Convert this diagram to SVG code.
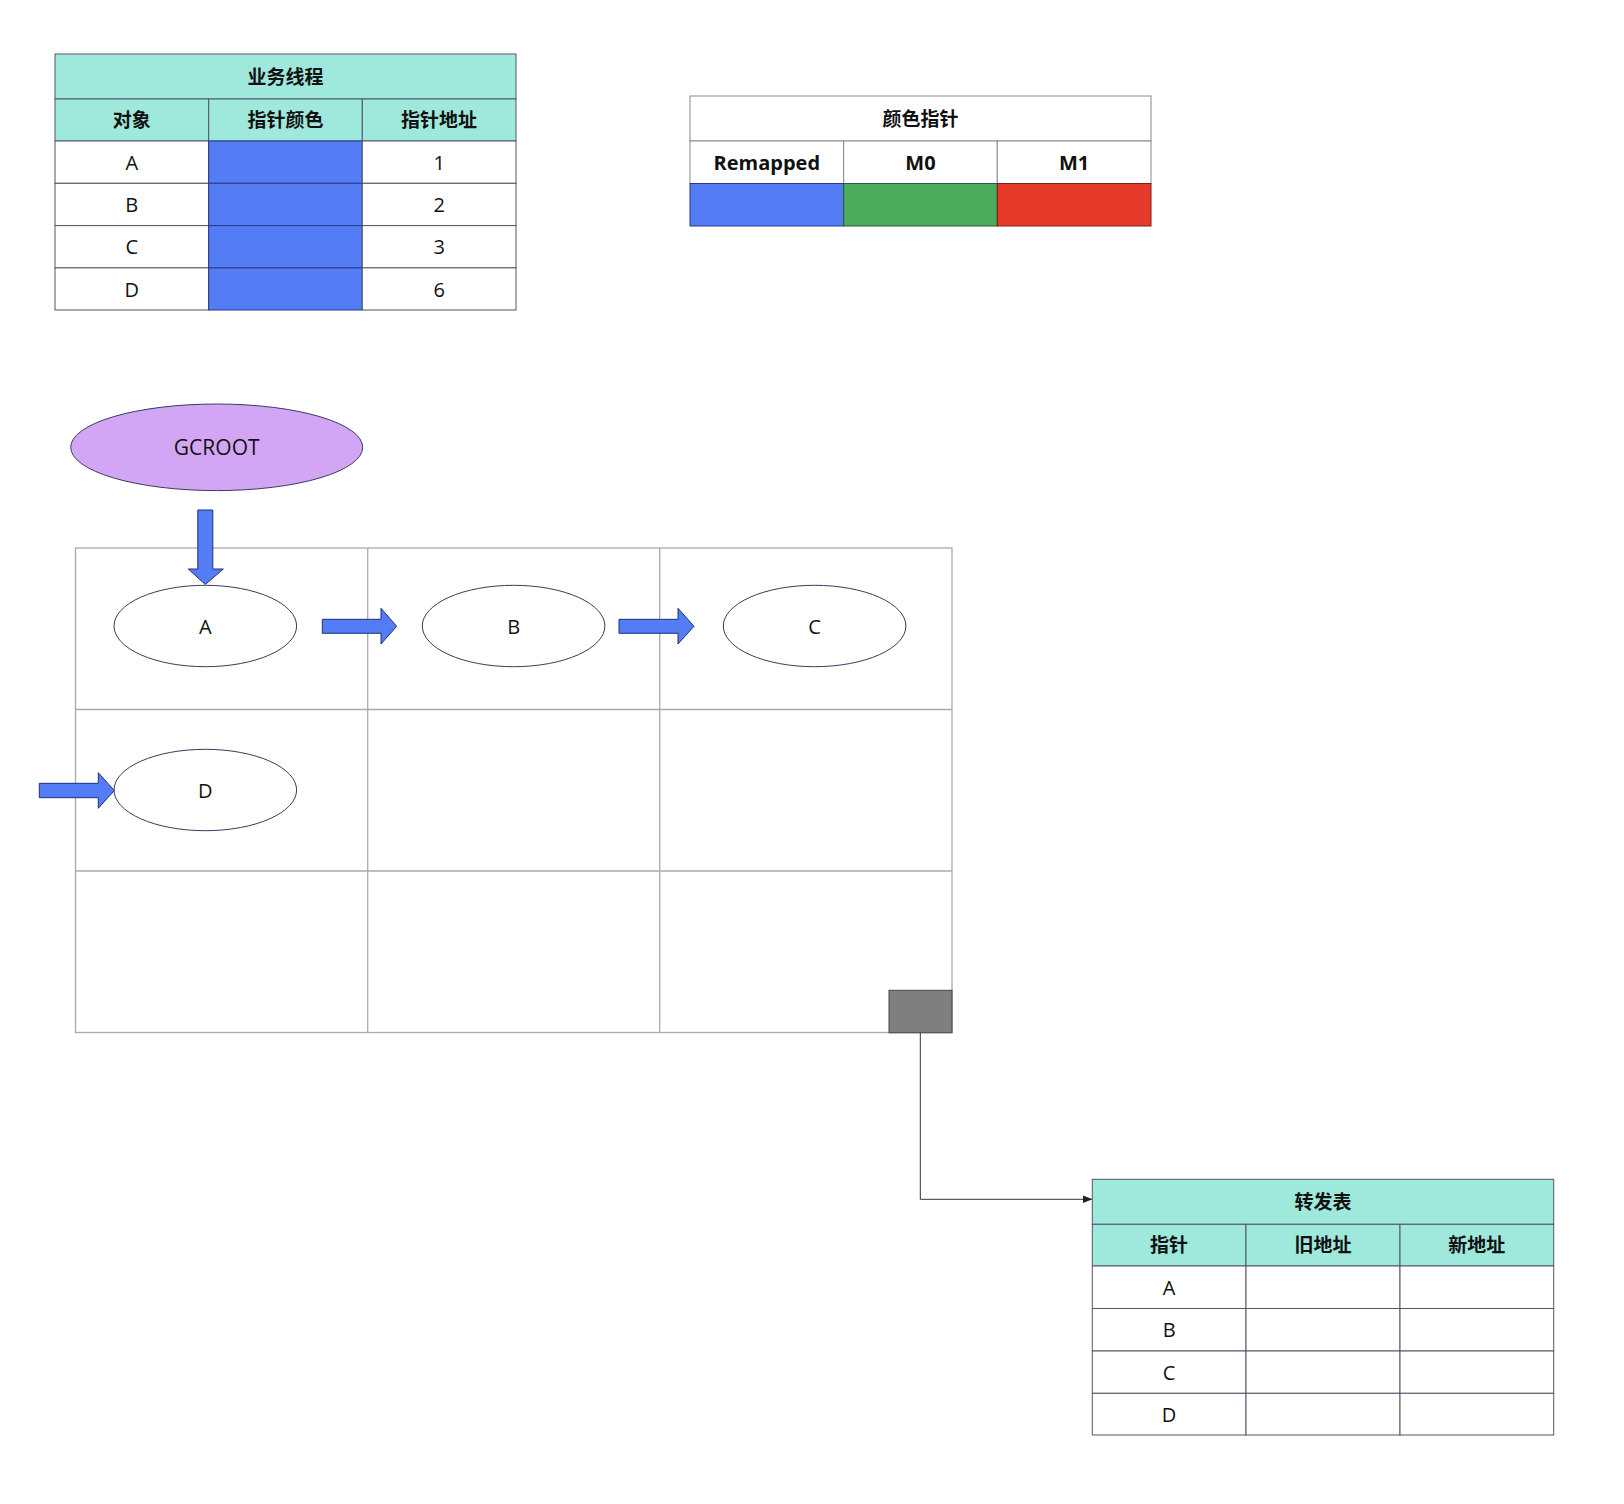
<svg xmlns="http://www.w3.org/2000/svg" width="1624" height="1504" viewBox="0 0 1624 1504">
<style>
text{font-family:"Open Sans","Noto Sans","Noto Sans CJK SC",sans-serif;font-size:20px;fill:#111;text-anchor:middle;dominant-baseline:central}
.b{font-weight:bold;font-size:19px;font-family:"Open Sans","Noto Sans CJK SC",sans-serif}
.hd{fill:#9EE8DC;stroke:#55556a;stroke-width:1}
.cell{fill:#fff;stroke:#55556a;stroke-width:1}
.blue{fill:#547CF5;stroke:#2b3a80;stroke-width:1}
.cell2{fill:#fff;stroke:#8a8a8a;stroke-width:1}
.grid{fill:none;stroke:#aaaaaa;stroke-width:1.3}
.ell{fill:#fff;stroke:#3a3a5e;stroke-width:1}
.barrow{fill:#547CF5;stroke:#1f2f7a;stroke-width:1}
</style>
<defs>
<marker id="tri" markerWidth="10" markerHeight="10" refX="9" refY="5" orient="auto" markerUnits="userSpaceOnUse">
<path d="M0,1 L10,5 L0,9 Z" fill="#222"/>
</marker>
</defs>
<rect width="1624" height="1504" fill="#fff"/>

<g id="table-business-thread">
<rect class="hd" x="55" y="54" width="461" height="45"/>
<text class="b" x="285.5" y="77">业务线程</text>
<rect class="hd" x="55" y="99" width="153.7" height="42"/>
<rect class="hd" x="208.7" y="99" width="153.6" height="42"/>
<rect class="hd" x="362.3" y="99" width="153.7" height="42"/>
<text class="b" x="131.8" y="120">对象</text>
<text class="b" x="285.5" y="120">指针颜色</text>
<text class="b" x="439.1" y="120">指针地址</text>
<rect class="cell" x="55" y="141" width="153.7" height="42.3"/>
<rect class="cell" x="55" y="183.3" width="153.7" height="42.3"/>
<rect class="cell" x="55" y="225.6" width="153.7" height="42.3"/>
<rect class="cell" x="55" y="267.9" width="153.7" height="42.1"/>
<rect class="blue" x="208.7" y="141" width="153.6" height="42.3"/>
<rect class="blue" x="208.7" y="183.3" width="153.6" height="42.3"/>
<rect class="blue" x="208.7" y="225.6" width="153.6" height="42.3"/>
<rect class="blue" x="208.7" y="267.9" width="153.6" height="42.1"/>
<rect class="cell" x="362.3" y="141" width="153.7" height="42.3"/>
<rect class="cell" x="362.3" y="183.3" width="153.7" height="42.3"/>
<rect class="cell" x="362.3" y="225.6" width="153.7" height="42.3"/>
<rect class="cell" x="362.3" y="267.9" width="153.7" height="42.1"/>
<text x="131.8" y="162.2">A</text>
<text x="131.8" y="204.5">B</text>
<text x="131.8" y="246.8">C</text>
<text x="131.8" y="289">D</text>
<text x="439.1" y="162.2">1</text>
<text x="439.1" y="204.5">2</text>
<text x="439.1" y="246.8">3</text>
<text x="439.1" y="289">6</text>
</g>

<g id="table-color-pointer">
<rect class="cell2" x="690" y="96" width="461" height="45"/>
<text class="b" x="920.5" y="119">颜色指针</text>
<rect class="cell2" x="690" y="141" width="153.7" height="42.5"/>
<rect class="cell2" x="843.7" y="141" width="153.6" height="42.5"/>
<rect class="cell2" x="997.3" y="141" width="153.7" height="42.5"/>
<text class="b" x="766.8" y="162.5" style="font-size:20px">Remapped</text>
<text class="b" x="920.5" y="162.5" style="font-size:20px">M0</text>
<text class="b" x="1074.1" y="162.5" style="font-size:20px">M1</text>
<rect x="690" y="183.5" width="153.7" height="42.5" fill="#547CF5" stroke="#2b3a80"/>
<rect x="843.7" y="183.5" width="153.6" height="42.5" fill="#4DAB5E" stroke="#2c5a36"/>
<rect x="997.3" y="183.5" width="153.7" height="42.5" fill="#E83A2A" stroke="#7a2018"/>
</g>

<g id="gcroot">
<ellipse cx="216.7" cy="447.3" rx="146" ry="43.3" fill="#D2A6F5" stroke="#3a3a5e" stroke-width="1"/>
<text x="216.7" y="447.3" style="font-size:21px">GCROOT</text>
</g>

<g id="heap-grid">
<rect class="grid" x="75.5" y="548" width="876.5" height="484.5"/>
<line class="grid" x1="367.7" y1="548" x2="367.7" y2="1032.5"/>
<line class="grid" x1="659.7" y1="548" x2="659.7" y2="1032.5"/>
<line class="grid" x1="75.5" y1="709.5" x2="952" y2="709.5"/>
<line class="grid" x1="75.5" y1="871" x2="952" y2="871"/>
</g>

<g id="node-A">
<ellipse class="ell" cx="205.3" cy="626" rx="91.3" ry="40.7"/>
<text x="205.3" y="626">A</text>
</g>
<g id="node-B">
<ellipse class="ell" cx="513.6" cy="626" rx="91.3" ry="40.7"/>
<text x="513.6" y="626">B</text>
</g>
<g id="node-C">
<ellipse class="ell" cx="814.6" cy="626" rx="91.3" ry="40.7"/>
<text x="814.6" y="626">C</text>
</g>
<g id="node-D">
<ellipse class="ell" cx="205.3" cy="790" rx="91.3" ry="40.7"/>
<text x="205.3" y="790">D</text>
</g>

<g id="marker-box">
<rect x="889" y="990.3" width="63" height="42.5" fill="#7F7F7F" stroke="#44445a" stroke-width="1"/>
</g>

<g id="table-forwarding">
<rect class="hd" x="1092.3" y="1179.3" width="461.4" height="45"/>
<text class="b" x="1323" y="1202">转发表</text>
<rect class="hd" x="1092.3" y="1224.3" width="153.7" height="41.7"/>
<rect class="hd" x="1246" y="1224.3" width="154" height="41.7"/>
<rect class="hd" x="1400" y="1224.3" width="153.7" height="41.7"/>
<text class="b" x="1169.1" y="1245.2">指针</text>
<text class="b" x="1323" y="1245.2">旧地址</text>
<text class="b" x="1476.8" y="1245.2">新地址</text>
<rect class="cell" x="1092.3" y="1266" width="153.7" height="42.5"/>
<rect class="cell" x="1092.3" y="1308.5" width="153.7" height="42.5"/>
<rect class="cell" x="1092.3" y="1351" width="153.7" height="42.3"/>
<rect class="cell" x="1092.3" y="1393.3" width="153.7" height="41.7"/>
<rect class="cell" x="1246" y="1266" width="154" height="42.5"/>
<rect class="cell" x="1246" y="1308.5" width="154" height="42.5"/>
<rect class="cell" x="1246" y="1351" width="154" height="42.3"/>
<rect class="cell" x="1246" y="1393.3" width="154" height="41.7"/>
<rect class="cell" x="1400" y="1266" width="153.7" height="42.5"/>
<rect class="cell" x="1400" y="1308.5" width="153.7" height="42.5"/>
<rect class="cell" x="1400" y="1351" width="153.7" height="42.3"/>
<rect class="cell" x="1400" y="1393.3" width="153.7" height="41.7"/>
<text x="1169.1" y="1287.2">A</text>
<text x="1169.1" y="1329.7">B</text>
<text x="1169.1" y="1372.1">C</text>
<text x="1169.1" y="1414.2">D</text>
</g>

<g id="connectors">
<polygon class="barrow" points="197.8,510 212.8,510 212.8,569 223.3,569 205.3,584.5 188.3,569 197.8,569"/>
<polygon class="barrow" points="322.3,619.3 381,619.3 381,608.3 396.7,626.3 381,644 381,633.3 322.3,633.3"/>
<polygon class="barrow" points="619,619.3 678,619.3 678,608.3 694,626.3 678,644 678,633.3 619,633.3"/>
<polygon class="barrow" points="39.3,783.3 98.3,783.3 98.3,772.7 114.3,790.5 98.3,808.3 98.3,797.7 39.3,797.7"/>
<polyline points="920.3,1032.8 920.3,1199.3 1091.5,1199.3" fill="none" stroke="#333" stroke-width="1" marker-end="url(#tri)"/>
</g>
</svg>
